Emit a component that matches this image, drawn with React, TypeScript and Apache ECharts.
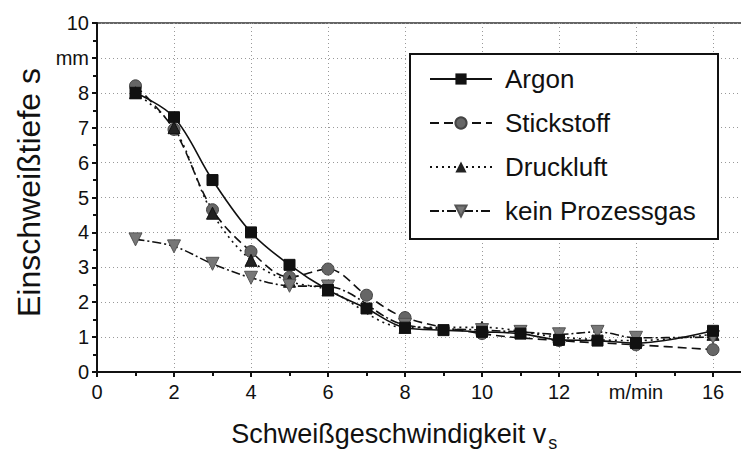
import React, { useEffect, useRef } from "react";
import * as echarts from "echarts";

const argonX = [1, 2, 3, 4, 5, 6, 7, 8, 9, 10, 11, 12, 13, 14, 16];
const argonY = [8.0, 7.3, 5.5, 4.0, 3.07, 2.35, 1.82, 1.27, 1.2, 1.15, 1.1, 0.92, 0.9, 0.83, 1.18];

const stickX = [1, 2, 3, 4, 5, 6, 7, 8, 10, 12, 14, 16];
const stickY = [8.2, 6.95, 4.65, 3.45, 2.72, 2.95, 2.2, 1.56, 1.1, 0.9, 0.78, 0.64];

const druckX = [1, 2, 3, 4, 5, 6, 8, 10, 12, 14, 16];
const druckY = [8.0, 7.0, 4.55, 3.2, 2.6, 2.35, 1.28, 1.28, 1.0, 0.9, 1.08];

const keinX = [1, 2, 3, 4, 5, 6, 8, 10, 11, 12, 13, 14, 16];
const keinY = [3.8, 3.6, 3.1, 2.7, 2.47, 2.45, 1.35, 1.2, 1.15, 1.08, 1.15, 0.98, 1.0];

const seriesNames = ["Argon", "Stickstoff", "Druckluft", "kein Prozessgas"];
const xTickLabels: Record<number, string> = { 14: "m/min" };
const yTickLabels: Record<number, string> = { 9: "mm" };

const pairs = (xs: number[], ys: number[]) => xs.map((x, i) => [x, ys[i]]);

export default function App() {
  const ref = useRef<HTMLDivElement>(null);
  useEffect(() => {
    if (!ref.current) return;
    const chart = echarts.init(ref.current, null, { renderer: "svg" });
    const font = "Liberation Sans, Arial, sans-serif";
    const lineCol = "#111";
    chart.setOption({
      animation: false,
      backgroundColor: "#fff",
      textStyle: { fontFamily: font },
      grid: {
        left: 97,
        top: 23,
        width: 654.5,
        height: 349,
        containLabel: false,
        outerBoundsMode: "none",
        show: true,
        borderColor: "#333",
        borderWidth: 1.5,
        backgroundColor: "transparent",
      },
      xAxis: {
        type: "value",
        min: 0,
        max: 17,
        interval: 2,
        name: "{a|Schweißgeschwindigkeit v}{sub|s}",
        nameLocation: "middle",
        nameGap: 48,
        nameTextStyle: {
          fontSize: 27,
          color: "#111",
          fontFamily: font,
          padding: [0, 60, 0, 0],
          rich: {
            a: { fontSize: 27, color: "#111", fontFamily: font, lineHeight: 30, verticalAlign: "top" },
            sub: {
              fontSize: 18,
              color: "#111",
              fontFamily: font,
              lineHeight: 18,
              verticalAlign: "top",
              padding: [14, 0, 0, 2],
            },
          },
        },
        axisLine: { show: true, lineStyle: { color: "#111", width: 2 } },
        axisTick: { show: true, inside: false, length: 5, lineStyle: { color: "#111", width: 2 } },
        minorTick: { show: true, splitNumber: 2, length: 4, lineStyle: { color: "#111", width: 2 } },
        axisLabel: {
          fontSize: 20,
          color: "#111",
          margin: 10,
          showMaxLabel: false,
          formatter: (v: number) => (v > 16 ? "" : xTickLabels[v] ?? String(v)),
        },
        splitLine: { show: true, lineStyle: { color: "#999", type: [1, 3], width: 1 } },
      },
      yAxis: {
        type: "value",
        min: 0,
        max: 10,
        interval: 1,
        name: "Einschweißtiefe s",
        nameLocation: "middle",
        nameGap: 51,
        nameTextStyle: { fontSize: 32, color: "#111", fontFamily: font, padding: [0, 0, 0, 10] },
        axisLine: { show: true, lineStyle: { color: "#111", width: 2 } },
        axisTick: { show: true, inside: false, length: 5, lineStyle: { color: "#111", width: 2 } },
        minorTick: { show: true, splitNumber: 2, length: 4, lineStyle: { color: "#111", width: 2 } },
        axisLabel: {
          fontSize: 20,
          color: "#111",
          margin: 8,
          formatter: (v: number) => yTickLabels[v] ?? String(v),
        },
        splitLine: { show: true, lineStyle: { color: "#999", type: [1, 3], width: 1 } },
      },
      legend: {
        orient: "vertical",
        left: 424,
        top: 61,
        itemWidth: 62,
        itemHeight: 14,
        itemGap: 18,
        z: 6,
        textStyle: { fontSize: 26, color: "#111", lineHeight: 26, padding: [0, 0, 0, 8] },
        data: seriesNames,
      },
      graphic: [
        {
          type: "rect",
          left: 409,
          top: 53,
          shape: { width: 308, height: 185 },
          style: { fill: "#fff", stroke: "#111", lineWidth: 2 },
          z: 2,
        },
      ],
      series: [
        {
          name: seriesNames[0],
          type: "line",
          data: pairs(argonX, argonY),
          smooth: 0.35,
          symbol: "rect",
          symbolSize: 11,
          itemStyle: { color: "#111", borderColor: "#111" },
          lineStyle: { color: lineCol, width: 1.6, type: "solid" },
          z: 4,
        },
        {
          name: seriesNames[1],
          type: "line",
          data: pairs(stickX, stickY),
          smooth: 0.35,
          symbol: "circle",
          symbolSize: 12,
          itemStyle: { color: "#666", borderColor: "#444", borderWidth: 1 },
          lineStyle: { color: lineCol, width: 1.6, type: [9, 5] },
          z: 3,
        },
        {
          name: seriesNames[2],
          type: "line",
          data: pairs(druckX, druckY),
          smooth: 0.35,
          symbol: "triangle",
          symbolSize: 12,
          itemStyle: { color: "#222", borderColor: "#111" },
          lineStyle: { color: lineCol, width: 1.6, type: [2, 4] },
          z: 3,
        },
        {
          name: seriesNames[3],
          type: "line",
          data: pairs(keinX, keinY),
          smooth: 0.35,
          symbol: "triangle",
          symbolRotate: 180,
          symbolSize: 13,
          itemStyle: { color: "#777", borderColor: "#555", borderWidth: 1 },
          lineStyle: { color: lineCol, width: 1.6, type: [9, 3, 2, 3] },
          z: 3,
        },
      ],
    });
    return () => chart.dispose();
  }, []);
  return (
    <div
      ref={ref}
      style={{ position: "fixed", left: 0, top: 0, width: 741, height: 454, background: "#fff" }}
    />
  );
}
